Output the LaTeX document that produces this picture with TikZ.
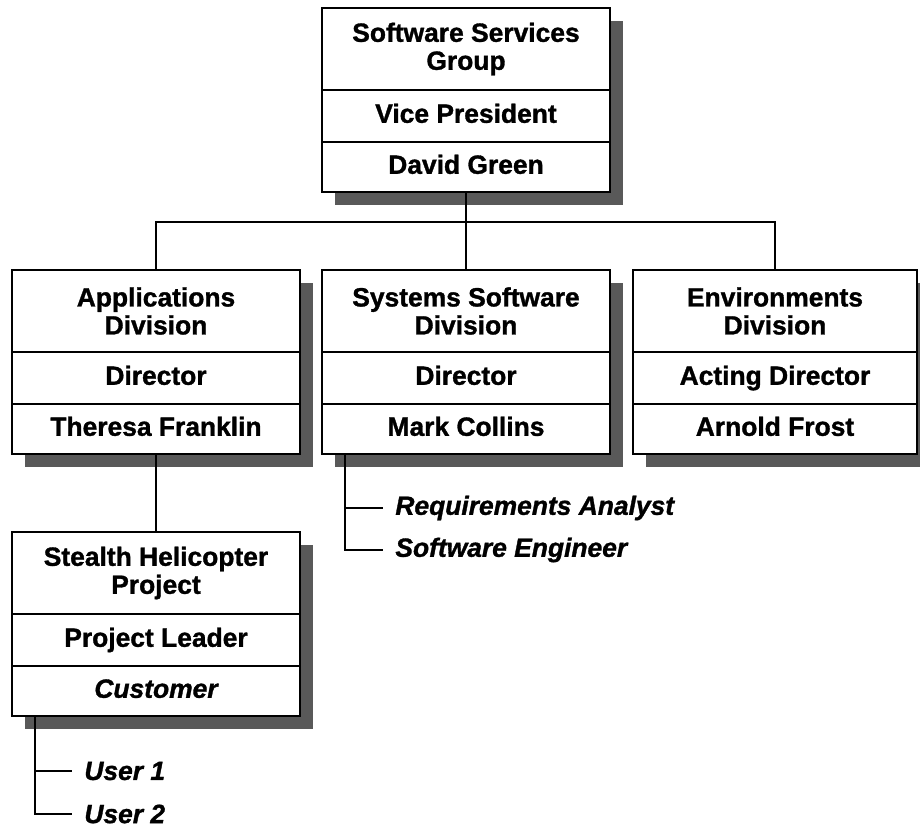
\documentclass[tikz,border=0pt]{standalone}
\usepackage{fontspec}
\setmainfont{Liberation Sans}[BoldFeatures={FakeBold=1.2},BoldItalicFeatures={FakeBold=1.2}]
\usetikzlibrary{positioning,shadows}

\begin{document}
\begin{tikzpicture}[x=0.5pt,y=-0.5pt]
\useasboundingbox (0,0) rectangle (920,828);

\tikzset{
    cell/.style={
        draw, fill=white, line width=1.2pt,
        minimum width=144pt, inner sep=0pt, outer sep=0pt,
        align=center, font=\fontsize{13.2}{14}\selectfont\bfseries,
        drop shadow={shadow xshift=6.5pt,shadow yshift=-6.5pt,fill=black!65,opacity=1}
    },
    head/.style={cell,anchor=north,minimum height=41pt},
    role/.style={cell,minimum height=26pt,text height=9.6pt,text depth=2.8pt,below=0pt of #1},
    who/.style={cell,minimum height=25pt,text height=9.6pt,text depth=2.8pt,below=0pt of #1},
    staff/.style={anchor=west,inner xsep=6pt,inner ysep=0pt,
        font=\fontsize{13.2}{14}\selectfont\bfseries\itshape},
    link/.style={line width=1pt}
}

% group
\node[head] (ssg) at (466,8) {Software Services\\Group};
\node[role=ssg] (ssgR) {Vice President};
\node[who=ssgR] (ssgN) {David Green};

% divisions
\node[head] (app) at (156,270) {Applications\\Division};
\node[role=app] (appR) {Director};
\node[who=appR] (appN) {Theresa Franklin};

\node[head] (sys) at (466,270) {Systems Software\\Division};
\node[role=sys] (sysR) {Director};
\node[who=sysR] (sysN) {Mark Collins};

\node[head,minimum width=142pt] (env) at (775,270) {Environments\\Division};
\node[role=env,minimum width=142pt] (envR) {Acting Director};
\node[who=envR,minimum width=142pt] (envN) {Arnold Frost};

% project
\node[head] (heli) at (156,532) {Stealth Helicopter\\Project};
\node[role=heli] (heliR) {Project Leader};
\node[who=heliR,font=\fontsize{13.2}{14}\selectfont\bfseries\itshape] (heliC) {Customer};

\coordinate (bus) at (466,222);
\draw[link] (ssgN.south) -- (sys.north);
\draw[link] (app.north) |- (bus) -| (env.north);
\draw[link] (appN.south) -- (heli.north);

% staff lists
\node[staff] (ra) at (383,508) {Requirements Analyst};
\node[staff] (se) at (383,550) {Software Engineer};
\coordinate (sysfoot) at ([xshift=11.5pt]sysN.south west);
\draw[link] (sysfoot) |- (ra.west);
\draw[link] (sysfoot) |- (se.west);

\node[staff] (u1) at (72,771) {User 1};
\node[staff] (u2) at (72,814) {User 2};
\coordinate (helifoot) at ([xshift=11.5pt]heliC.south west);
\draw[link] (helifoot) |- (u1.west);
\draw[link] (helifoot) |- (u2.west);

\end{tikzpicture}
\end{document}
